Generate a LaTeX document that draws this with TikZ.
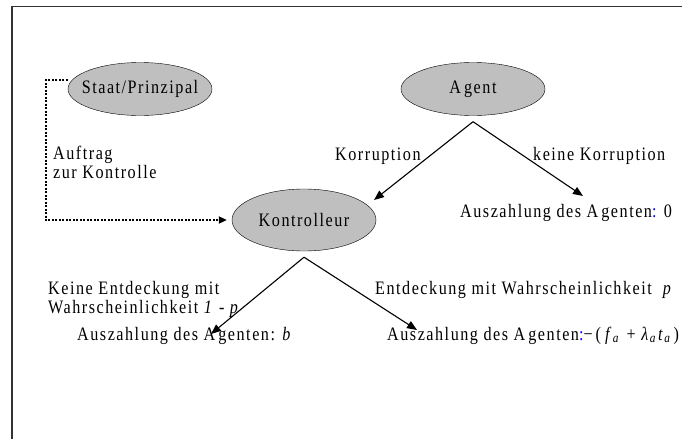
\documentclass[tikz,border=0pt]{standalone}
\usepackage{fontspec}
\setmainfont{Liberation Serif}[LetterSpace=8,FakeStretch=0.85]
\usetikzlibrary{shapes.geometric,arrows.meta}

\begin{document}
\begin{tikzpicture}[x=1pt,y=-1pt,
		font=\fontsize{19}{19}\selectfont,
		spieler/.style={ellipse,draw,fill=gray!50,minimum width=144pt,minimum height=53pt,inner xsep=-12pt,inner ysep=0pt},
		zweig/.style={line width=1.1pt,-{Triangle[length=10pt,width=8pt]}},
		auftrag/.style={line width=2pt,dash pattern=on 2pt off 1.5pt,-{Triangle[length=8pt,width=7pt]}},
		txt/.style={anchor=base west,inner sep=0pt,align=left}]
	\useasboundingbox (0,0) rectangle (682,439);
	\draw[gray!40!black,line width=2pt] (12,439) -- (12,6);
	\draw[gray!40!black,line width=1pt] (11,6.5) -- (682,6.5);
	\node[spieler] (staat) at (140,89) {Staat/Prinzipal};
	\node[spieler] (agent) at (473,89) {A\kern3pt gent};
	\node[spieler,minimum height=62pt] (kontr) at (304,220) {Kontrolleur};
	\node[txt] (korr) at (335,160) {Korruption};
	\node[txt] (keinekorr) at (533,160) {keine Korruption};
	\node[txt] (auszahlnull) at (460,217) {Auszahlung des A\kern3pt genten\textcolor{blue}{:} 0};
	\node[txt] (auftragtxt) at (53,178) {Auftrag\\zur Kontrolle};
	\node[txt] (keineentd) at (48,313) {Keine Entdeckung mit\\Wahrscheinlichkeit \textit{1} - \textit{p}};
	\node[txt] (entd) at (375,294) {Entdeckung mit Wahrscheinlichkeit \ \textit{p}};
	\node[txt] (auszahlb) at (77,340) {Auszahlung des A\kern3pt genten: \textit{b}};
	\node[txt] (auszahlf) at (387,340) {Auszahlung des A\kern3pt genten\textcolor{blue}{:}−\kern3pt(\kern4pt\textit{f}\textsubscript{\textit{a}} \kern1pt+ \textit{λ}\textsubscript{\textit{a}}\kern1pt\textit{t}\textsubscript{\textit{a}}\kern2pt)};
	\coordinate (ga) at ([yshift=-6pt]agent.south);
	\coordinate (gk) at ([yshift=-6pt]kontr.south);
	\coordinate (pk) at (374,200);
	\coordinate (pnull) at (583,196);
	\coordinate (pb) at (211,334);
	\coordinate (pf) at (417,330);
	\draw[zweig] (ga) -- (pk);
	\draw[zweig] (ga) -- (pnull);
	\draw[zweig] (gk) -- (pb);
	\draw[zweig] (gk) -- (pf);
	\draw[auftrag] ([yshift=9pt]staat.west) -- ++(-22,0) |- ([xshift=-5pt]kontr.west);
\end{tikzpicture}
\end{document}
